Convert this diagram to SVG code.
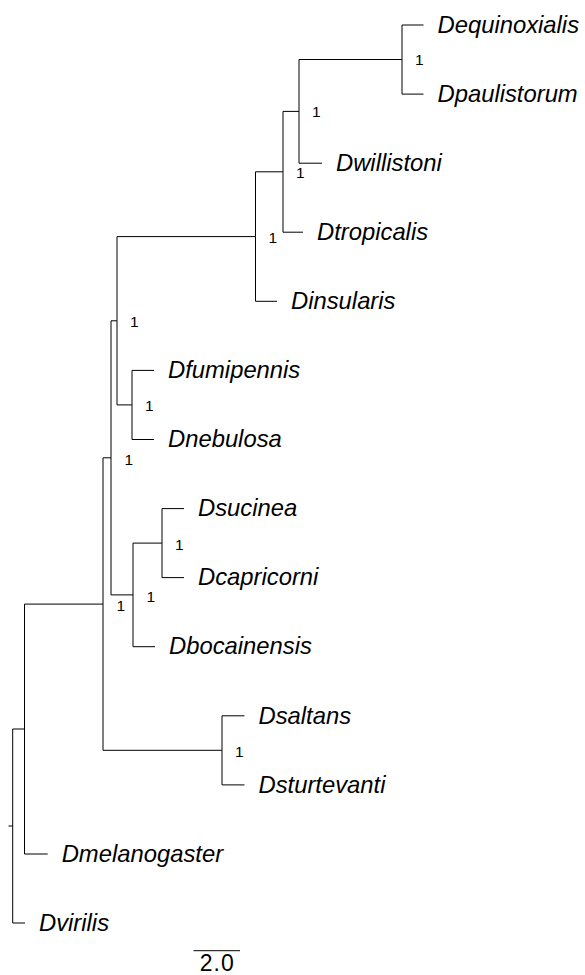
<svg xmlns="http://www.w3.org/2000/svg" width="585" height="975" viewBox="0 0 585 975">
<style>
.e{fill:none;stroke:#000;stroke-width:1}
.t{font-family:"Liberation Sans",Arial,sans-serif;font-style:italic;font-size:23.8px;fill:#000}
.s{font-family:"Liberation Sans",Arial,sans-serif;font-size:15.5px;fill:#000}
.sc{font-family:"Liberation Sans",Arial,sans-serif;font-size:23px;letter-spacing:1px;fill:#000}
</style>
<rect width="585" height="975" fill="#fff"/>
<g id="connectors" class="e">
<path d="M402 59.5 V25 H423.5 M402 59.5 V94.1 H423.5"/>
<path d="M299 111.4 V59.5 H402 M299 111.4 V163.2 H322"/>
<path d="M283 171.8 V111.4 H299 M283 171.8 V232.2 H303"/>
<path d="M255.5 236.6 V171.8 H283 M255.5 236.6 V301.3 H277"/>
<path d="M132 404.9 V370.4 H154 M132 404.9 V439.5 H154"/>
<path d="M117 320.8 V236.6 H255.5 M117 320.8 V404.9 H132"/>
<path d="M162 543.1 V508.6 H184 M162 543.1 V577.6 H184"/>
<path d="M133 594.9 V543.1 H162 M133 594.9 V646.7 H155"/>
<path d="M111 457.8 V320.8 H117 M111 457.8 V594.9 H133"/>
<path d="M222 750.3 V715.8 H244.5 M222 750.3 V784.9 H244.5"/>
<path d="M103 604.1 V457.8 H111 M103 604.1 V750.3 H222"/>
<path d="M24.5 729 V604.1 H103 M24.5 729 V854 H47.7"/>
<path d="M12.7 826 V729 H24.5 M12.7 826 V923 H25 M8.5 826 H12.7"/>
</g>
<g id="n_Dequinoxialis"><text class="t" x="437.5" y="32.7">Dequinoxialis</text></g>
<g id="n_Dpaulistorum"><text class="t" x="437.5" y="101.8">Dpaulistorum</text></g>
<g id="n_Dwillistoni"><text class="t" x="336" y="170.9">Dwillistoni</text></g>
<g id="n_Dtropicalis"><text class="t" x="317" y="239.9">Dtropicalis</text></g>
<g id="n_Dinsularis"><text class="t" x="291" y="309">Dinsularis</text></g>
<g id="n_Dfumipennis"><text class="t" x="168" y="378.1">Dfumipennis</text></g>
<g id="n_Dnebulosa"><text class="t" x="168" y="447.2">Dnebulosa</text></g>
<g id="n_Dsucinea"><text class="t" x="198" y="516.3">Dsucinea</text></g>
<g id="n_Dcapricorni"><text class="t" x="198" y="585.3">Dcapricorni</text></g>
<g id="n_Dbocainensis"><text class="t" x="169" y="654.4">Dbocainensis</text></g>
<g id="n_Dsaltans"><text class="t" x="258.5" y="723.5">Dsaltans</text></g>
<g id="n_Dsturtevanti"><text class="t" x="258.5" y="792.6">Dsturtevanti</text></g>
<g id="n_Dmelanogaster"><text class="t" x="61.7" y="861.7">Dmelanogaster</text></g>
<g id="n_Dvirilis"><text class="t" x="39" y="930.7">Dvirilis</text></g>
<g id="n_A"><text class="s" x="415" y="65">1</text></g>
<g id="n_B"><text class="s" x="312" y="117">1</text></g>
<g id="n_C"><text class="s" x="296" y="178">1</text></g>
<g id="n_D"><text class="s" x="268.5" y="242.5">1</text></g>
<g id="n_E"><text class="s" x="130" y="327">1</text></g>
<g id="n_F"><text class="s" x="145" y="411">1</text></g>
<g id="n_G"><text class="s" x="124.5" y="464.5">1</text></g>
<g id="n_H"><text class="s" x="146.5" y="601.5">1</text></g>
<g id="n_I"><text class="s" x="175" y="549.5">1</text></g>
<g id="n_J"><text class="s" x="116.5" y="610.5">1</text></g>
<g id="n_K"><text class="s" x="235" y="756.5">1</text></g>
<g id="scalebar">
<path class="e" d="M193.5 950.7 H240"/>
<text class="sc" x="217.2" y="971" text-anchor="middle">2.0</text>
</g>
</svg>
